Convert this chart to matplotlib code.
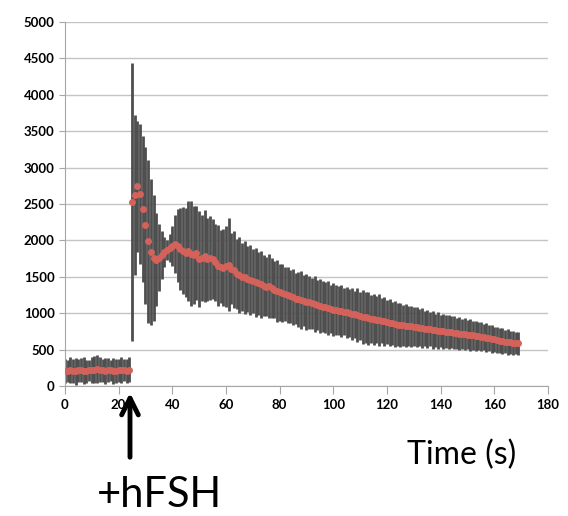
import matplotlib
matplotlib.use("Agg")
import matplotlib.pyplot as plt
import numpy as np

# time points (s), one frame per second
time = np.arange(170)

# baseline before hormone addition (t = 0..24)
baseline_mean = [212, 205, 218, 208, 200, 214, 220, 210, 204, 216, 222, 226, 232,
                 224, 218, 210, 222, 214, 208, 206, 216, 222, 218, 212, 226]
baseline_err = [165, 150, 178, 160, 182, 152, 170, 188, 158, 148, 176, 182, 192,
                170, 160, 178, 164, 150, 182, 168, 158, 176, 154, 166, 172]

# response after +hFSH (t = 25..169)
response_mean = [
    2530, 2620, 2745, 2640, 2430, 2210, 1990, 1840, 1760, 1735,
    1760, 1800, 1840, 1870, 1895, 1925, 1955, 1930, 1885, 1860,
    1830, 1855, 1820, 1800, 1825, 1745, 1760, 1785, 1740, 1760,
    1750, 1700, 1655, 1640, 1625, 1645, 1665, 1610, 1600, 1535,
    1525, 1500, 1495, 1470, 1460, 1445, 1425, 1410, 1395, 1380,
    1365, 1375, 1345, 1325, 1305, 1290, 1275, 1262, 1250, 1232,
    1220, 1202, 1192, 1180, 1172, 1160, 1150, 1140, 1132, 1112,
    1100, 1092, 1080, 1072, 1060, 1050, 1042, 1036, 1030, 1022,
    1015, 1000, 992, 985, 970, 962, 950, 942, 932, 922,
    915, 910, 905, 900, 890, 880, 872, 862, 852, 845,
    840, 835, 830, 825, 820, 815, 810, 800, 795, 790,
    785, 780, 770, 765, 760, 755, 750, 748, 745, 740,
    735, 725, 720, 715, 710, 705, 700, 695, 690, 685,
    680, 672, 665, 660, 650, 640, 632, 625, 618, 610,
    605, 598, 592, 588, 585,
]
response_err = [
    1910, 1100, 900, 960, 1000, 1080, 1120, 1000, 870, 640,
    460, 330, 210, 140, 190, 280, 400, 500, 560, 600,
    610, 690, 720, 670, 650, 660, 590, 630, 570, 580,
    550, 530, 560, 500, 530, 560, 640, 490, 530, 480,
    520, 470, 500, 455, 480, 440, 475, 430, 460, 420,
    405, 440, 410, 395, 420, 390, 400, 370, 385, 360,
    385, 350, 380, 395, 350, 385, 360, 350, 385, 340,
    375, 350, 345, 375, 330, 360, 345, 335, 360, 325,
    350, 330, 355, 320, 370, 335, 375, 345, 365, 325,
    350, 325, 355, 315, 335, 305, 325, 295, 315, 290,
    305, 280, 295, 270, 285, 265, 280, 255, 270, 245,
    260, 235, 255, 230, 250, 225, 242, 224, 236, 218,
    232, 210, 226, 205, 220, 200, 214, 194, 210, 188,
    202, 184, 196, 176, 190, 172, 184, 166, 180, 162,
    174, 158, 170, 154, 162,
]

mean = np.array(baseline_mean + response_mean)
err = np.array(baseline_err + response_err)

plt.rcParams['font.family'] = ['Lato', 'DejaVu Sans']

fig = plt.figure(figsize=(5.68, 5.16), dpi=100)
ax = fig.add_axes([0.1144, 0.2519, 0.8504, 0.7054])

ax.errorbar(time, mean, yerr=err, fmt='none', ecolor='#4e4e4e',
            elinewidth=2.0, capsize=0, zorder=2)
ax.plot(time, mean, 'o', color='#d4625a', ms=5, mec='none', zorder=3)

ax.set_xlim(0, 180)
ax.set_ylim(0, 5000)
ax.set_xticks(np.arange(0, 181, 20))
ax.set_yticks(np.arange(0, 5001, 500))
ax.yaxis.grid(True, color='#c4c4c4', lw=1)
ax.set_axisbelow(True)

for side in ['top', 'right']:
    ax.spines[side].set_visible(False)
for side in ['left', 'bottom']:
    ax.spines[side].set_color('#a6a6a6')
ax.tick_params(axis='x', colors='#a6a6a6', length=6, labelcolor='black',
               labelsize=9.5)
ax.tick_params(axis='y', colors='#a6a6a6', length=4, labelcolor='black',
               labelsize=9.5)
for lab in ax.get_xticklabels() + ax.get_yticklabels():
    lab.set_fontweight('bold')

fig.text(462 / 568, 1 - 455 / 516, 'Time (s)', fontsize=23,
         ha='center', va='center')
fig.text(159 / 568, 1 - 495 / 516, '+hFSH', fontsize=30,
         ha='center', va='center')

# arrow marking hormone addition
ax.annotate('', xy=(130 / 568, 1 - 390 / 516), xycoords='figure fraction',
            xytext=(130 / 568, 1 - 460 / 516), textcoords='figure fraction',
            arrowprops=dict(arrowstyle='->', lw=3.5, color='black',
                            mutation_scale=30),
            annotation_clip=False)

fig.savefig('out.png', dpi=100)
